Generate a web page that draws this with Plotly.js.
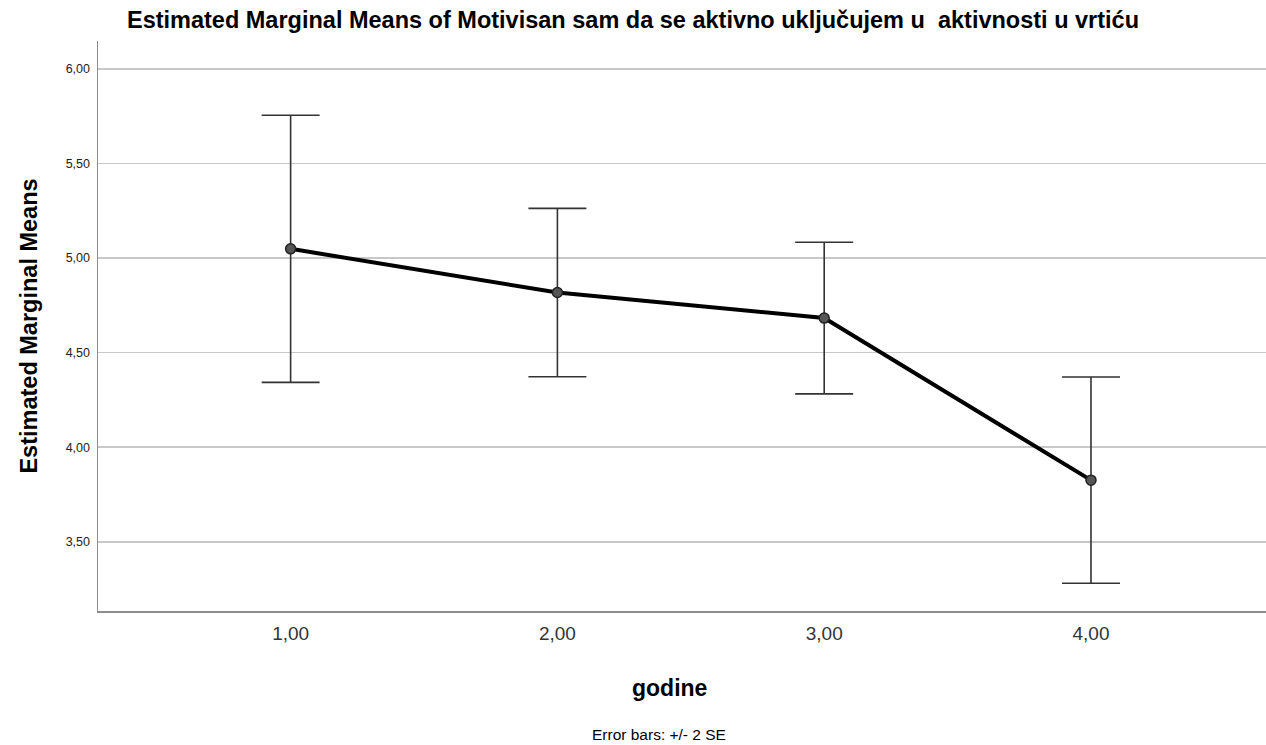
<!DOCTYPE html>
<html>
<head>
<meta charset="utf-8">
<script src="https://cdn.plot.ly/plotly-3.0.1.min.js"></script>
<style>
html,body{margin:0;padding:0;background:#fff;}
#chart{width:1266px;height:745px;}
</style>
</head>
<body>
<div id="chart"></div>
<script>
// Data
const godine = [1, 2, 3, 4];
const xTickLabels = ["1,00", "2,00", "3,00", "4,00"];
const means = [5.049, 4.818, 4.683, 3.826];
const errors2SE = [0.706, 0.445, 0.401, 0.545];
const yTickVals = [3.5, 4.0, 4.5, 5.0, 5.5, 6.0];
const yTickLabels = ["3,50", "4,00", "4,50", "5,00", "5,50", "6,00"];

const FONT = "Liberation Sans, Arial, sans-serif";

const trace = {
  x: godine,
  y: means,
  type: "scatter",
  mode: "lines+markers",
  line: {color: "#000000", width: 4},
  marker: {size: 10, color: "#555555", line: {color: "#222222", width: 1.5}},
  error_y: {type: "data", array: errors2SE, visible: true, color: "#333333", thickness: 1.6, width: 29},
  hoverinfo: "skip",
  showlegend: false
};

const layout = {
  width: 1266,
  height: 745,
  paper_bgcolor: "#ffffff",
  plot_bgcolor: "#ffffff",
  margin: {l: 98, r: 0, t: 41, b: 134},
  font: {family: FONT, color: "#000"},
  title: {
    text: "Estimated Marginal Means of Motivisan sam da se aktivno uključujem u\u00a0 aktivnosti u vrtiću",
    font: {family: FONT, size: 23.5, color: "#000", weight: "bold"},
    x: 0.5, xref: "container", xanchor: "center",
    y: 0.973, yref: "container", yanchor: "middle"
  },
  xaxis: {
    range: [0.278, 4.656],
    tickvals: godine,
    ticktext: xTickLabels,
    tickfont: {family: FONT, size: 19, color: "#333"},
    showgrid: false,
    zeroline: false,
    showline: true,
    linecolor: "#8c8c8c",
    linewidth: 1.5,
    ticks: "",
    ticklabelstandoff: 5,
    title: {text: ""},
    fixedrange: true
  },
  yaxis: {
    range: [3.134, 6.148],
    tickvals: yTickVals,
    ticktext: yTickLabels,
    tickfont: {family: FONT, size: 12.5, color: "#222"},
    showgrid: true,
    gridcolor: "#c8c8c8",
    gridwidth: 1.5,
    zeroline: false,
    showline: true,
    linecolor: "#8c8c8c",
    linewidth: 1.5,
    ticks: "",
    ticklabelstandoff: 4,
    title: {text: "Estimated Marginal Means", font: {family: FONT, size: 23.5, color: "#000", weight: "bold"}, standoff: 21},
    fixedrange: true
  },
  annotations: [
    {
      text: "<b>godine</b>",
      xref: "paper", yref: "paper",
      x: 0.4897, y: 0,
      xanchor: "center", yanchor: "middle",
      yshift: -77,
      showarrow: false,
      font: {family: FONT, size: 23, color: "#000"}
    },
    {
      text: "Error bars: +/- 2 SE",
      xref: "paper", yref: "paper",
      x: 0.480, y: 0,
      xanchor: "center", yanchor: "middle",
      yshift: -123,
      showarrow: false,
      font: {family: FONT, size: 15.5, color: "#000"}
    }
  ]
};

Plotly.newPlot("chart", [trace], layout, {displayModeBar: false, staticPlot: true});
</script>
</body>
</html>
